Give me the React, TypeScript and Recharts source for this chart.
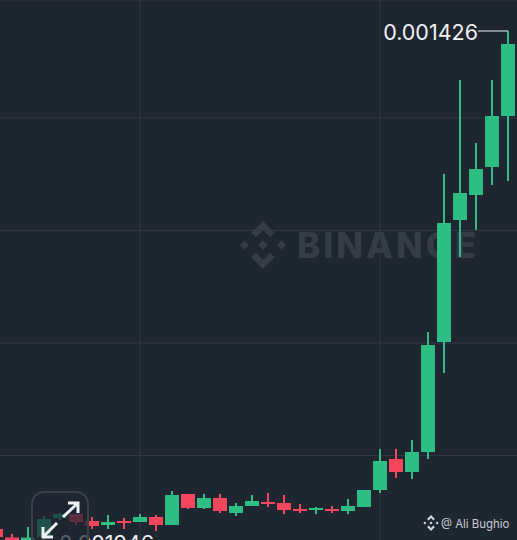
import React from 'react';
import { ComposedChart, Bar, XAxis, YAxis, CartesianGrid, ReferenceDot } from 'recharts';

const opens = [
  0.0002308, 0.0002104, 0.0001972, 0.0002116, 0.0002572, 0.0002668, 0.00025, 0.0002404, 0.00025, 0.0002476, 0.0002596, 0.0002404,
  0.0003148, 0.0002812, 0.0003052, 0.0002692, 0.000286, 0.0002956, 0.0002932, 0.0002788, 0.0002764, 0.0002788, 0.000274, 0.0002836,
  0.0003244, 0.0003988, 0.0003676, 0.0004156, 0.0006796, 0.0009724, 0.0010324, 0.0010996, 0.001222, 0.0013948,
];
const closes = [
  0.0002116, 0.000202, 0.0002104, 0.0002548, 0.0002668, 0.0002476, 0.000238, 0.0002476, 0.0002452, 0.0002596, 0.0002404, 0.0003124,
  0.0002812, 0.0003052, 0.000274, 0.000286, 0.000298, 0.0002908, 0.0002764, 0.000274, 0.0002812, 0.000274, 0.000286, 0.0003244,
  0.000394, 0.0003676, 0.0004156, 0.0006724, 0.0009652, 0.0010372, 0.0010948, 0.001222, 0.0013948, 0.0010228,
];
const highs = [
  0.0002404, 0.0002188, 0.0002356, 0.000262, 0.0002692, 0.0002668, 0.0002596, 0.0002644, 0.0002572, 0.0002668, 0.0002644, 0.000322,
  0.0003148, 0.0003148, 0.0003148, 0.0002932, 0.0003124, 0.0003172, 0.0003124, 0.0002908, 0.0002836, 0.000286, 0.0003028, 0.0003244,
  0.0004228, 0.0004228, 0.0004444, 0.0007036, 0.0010828, 0.0013084, 0.0011572, 0.0013084, 0.001426, 0.00141,
];
const lows = [
  0.0002044, 0.0001972, 0.000196, 0.0001946, 0.0002524, 0.0002404, 0.0002308, 0.0002308, 0.0002308, 0.0002476, 0.000226, 0.0002404,
  0.0002788, 0.0002788, 0.0002692, 0.000262, 0.000286, 0.0002836, 0.0002668, 0.0002692, 0.0002668, 0.0002692, 0.0002668, 0.0002836,
  0.0003172, 0.0003532, 0.0003508, 0.0003988, 0.0006052, 0.0008836, 0.0009484, 0.0010564, 0.001066, 0.001,
];
const slots = opens.map((_, i) => i);
const priceTicks = [0.0014872, 0.0012172, 0.0009472, 0.0006772, 0.0004072];
const slotTicks = [9, 24];
const highLabel = '0.001426';
const lowLabel = '0.001946';
const highSlot = 32;
const lowSlot = 3;

const chartData = slots.map((slot) => ({
  slot,
  open: opens[slot],
  close: closes[slot],
  range: [lows[slot], highs[slot]],
}));

const UP = '#2ebd85';
const DOWN = '#f6465d';
const BG = '#1e2630';
const FONT = 'Inter, sans-serif';

const Candle = (props: any) => {
  const { x, y, width, height, payload } = props;
  const [low, high] = payload.range;
  const toY = (p: number) => y + ((high - p) / (high - low)) * height;
  const top = toY(Math.max(payload.open, payload.close));
  const bottom = toY(Math.min(payload.open, payload.close));
  const color = payload.close >= payload.open ? UP : DOWN;
  const mid = x + width / 2;
  return (
    <g>
      <rect x={mid - 1} y={y} width={2} height={height} fill={color} />
      <rect x={x} y={top} width={width} height={Math.max(bottom - top, 2)} fill={color} />
    </g>
  );
};

const PriceMark = (props: any) => {
  const { cx, cy, label, side } = props;
  const endX = side === 'left' ? cx - 30 : cx + 14;
  return (
    <g>
      <line x1={cx} y1={cy} x2={endX} y2={cy} stroke="#eef0f2" strokeWidth={1} />
      <text
        x={side === 'left' ? endX : endX + 1}
        y={cy + (side === 'left' ? 9 : 7)}
        textAnchor={side === 'left' ? 'end' : 'start'}
        fill="#eef0f2"
        fontSize={21.5}
        fontFamily={FONT}
      >
        {label}
      </text>
    </g>
  );
};

// binance diamond, drawn in a -1..1 box
const Logo = ({ cx, cy, r, color }: { cx: number; cy: number; r: number; color: string }) => {
  const polys = [
    '0,-1 0.49,-0.51 0.3,-0.32 0,-0.62 -0.3,-0.32 -0.49,-0.51',
    '0,1 0.49,0.51 0.3,0.32 0,0.62 -0.3,0.32 -0.49,0.51',
    '-0.77,-0.19 -0.58,0 -0.77,0.19 -0.96,0',
    '0.77,-0.19 0.96,0 0.77,0.19 0.58,0',
    '0,-0.2 0.2,0 0,0.2 -0.2,0',
  ];
  return (
    <g transform={`translate(${cx} ${cy}) scale(${r})`}>
      {polys.map((p) => (
        <polygon key={p} points={p} fill={color} />
      ))}
    </g>
  );
};

export default function App() {
  return (
    <div style={{ position: 'absolute', left: 0, top: 0, width: 517, height: 540, overflow: 'hidden', background: BG }}>
      <svg width={517} height={540} style={{ position: 'absolute', left: 0, top: 0 }}>
        <Logo cx={263} cy={245} r={24} color="#363c45" />
        <text x={297} y={258} fontSize={35} fontWeight={800} letterSpacing={3} fontFamily={FONT} fill="#363c45">
          BINANCE
        </text>
      </svg>
      <div style={{ position: 'absolute', left: -12, top: 0 }}>
        <ComposedChart width={544} height={560} data={chartData} margin={{ top: 0, right: 0, bottom: 0, left: 0 }}>
          <CartesianGrid stroke="#303741" strokeWidth={1} />
          <XAxis dataKey="slot" type="category" ticks={slotTicks} hide />
          <YAxis type="number" domain={[0.0001564, 0.0015004]} ticks={priceTicks} hide />
          <Bar dataKey="range" barSize={14} shape={Candle} isAnimationActive={false} />
          <ReferenceDot
            x={highSlot}
            y={highs[highSlot]}
            ifOverflow="visible"
            shape={(p: any) => <PriceMark {...p} label={highLabel} side="left" />}
          />
          <ReferenceDot
            x={lowSlot}
            y={lows[lowSlot]}
            ifOverflow="visible"
            shape={(p: any) => <PriceMark {...p} label={lowLabel} side="right" />}
          />
        </ComposedChart>
      </div>
      <div
        style={{
          position: 'absolute',
          left: 31,
          top: 491,
          width: 54,
          height: 70,
          border: '2px solid #3b4048',
          borderRadius: 13,
          background: 'rgba(30,38,48,0.72)',
        }}
      />
      <svg width={517} height={540} style={{ position: 'absolute', left: 0, top: 0 }}>
        <g stroke="#f0f1f2" strokeWidth={3} fill="none">
          <path d="M63 517 L78 503 M68 503 H78 V513" />
          <path d="M57 523 L43 537 M43 527 V537 H53" />
        </g>
        <Logo cx={431} cy={523} r={8} color="#d4d6d9" />
        <text x={441} y={527.5} fontSize={11.4} fontFamily={FONT} fill="#c9ccd0">
          @ Ali Bughio
        </text>
      </svg>
    </div>
  );
}
